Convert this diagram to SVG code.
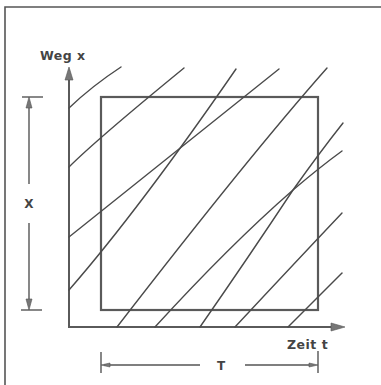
<svg xmlns="http://www.w3.org/2000/svg" width="381" height="385" viewBox="0 0 381 385">
<defs>
<style>
.frame{stroke:#555;stroke-width:1.6;fill:none}
.ax{stroke:#5a5a5a;stroke-width:2;fill:none}
.sq{stroke:#5a5a5a;stroke-width:2.2;fill:none}
.ln{stroke:#4a4a4a;stroke-width:1.4;fill:none;stroke-linecap:round;stroke-linejoin:round}
.dim{stroke:#555;stroke-width:1.4;fill:none}
.ah{fill:#777;stroke:#555;stroke-width:0.6}
text{font-family:"DejaVu Sans","Liberation Sans",sans-serif;fill:#444;font-weight:bold}
</style>
</defs>
<rect width="381" height="385" fill="#fff"/>
<g id="frame">
<path class="frame" d="M5,385 V7 H381"/>
</g>
<g id="axes">
<path class="ax" d="M69,328 V76"/>
<polygon class="ah" points="69,67 65,80 73,80"/>
<path class="ax" d="M69,327 H335"/>
<polygon class="ah" points="345,327 331,323 331,331"/>
</g>
<g id="square">
<rect class="sq" x="101" y="97" width="217" height="213"/>
</g>
<g id="connectors">
<path class="ln" d="M69,108 Q92,86 121,67"/>
<path class="ln" d="M69,167 Q96,140 184,68"/>
<path class="ln" d="M69,237 Q160,164 279,69"/>
<path class="ln" d="M69,290 Q139.5,209 236,69"/>
<path class="ln" d="M117,327 Q250,155 327,68"/>
<path class="ln" d="M155,327 Q230,245 293,190 Q320,167 342,151"/>
<path class="ln" d="M200,327 Q250,255 293,190 Q320,152 343,123"/>
<path class="ln" d="M235,327 Q290,268 342,213"/>
<path class="ln" d="M288,327 L342,273"/>
</g>
<g id="dimX">
<path class="dim" d="M22,97 H43"/>
<path class="dim" d="M29,184 V103"/>
<polygon class="ah" points="29,97 26,108 32,108"/>
<text x="29" y="208" font-size="12" font-weight="normal" text-anchor="middle">X</text>
<path class="dim" d="M29,223 V304"/>
<polygon class="ah" points="29,310 26,299 32,299"/>
<path class="dim" d="M21,310 H42"/>
</g>
<g id="dimT">
<path class="dim" d="M101,352 V373"/>
<path class="dim" d="M104,365 H200"/>
<polygon class="ah" points="101,365 110,363 110,367"/>
<text x="221" y="370" font-size="12" font-weight="normal" text-anchor="middle">T</text>
<path class="dim" d="M245,365 H313"/>
<polygon class="ah" points="318,365 309,363 309,367"/>
<path class="dim" d="M318,351 V373"/>
</g>
<g id="labels">
<text x="40" y="60" font-size="12.5" letter-spacing="0.5">Weg x</text>
<text x="287" y="349" font-size="12.5" letter-spacing="0.5">Zeit t</text>
</g>
</svg>
